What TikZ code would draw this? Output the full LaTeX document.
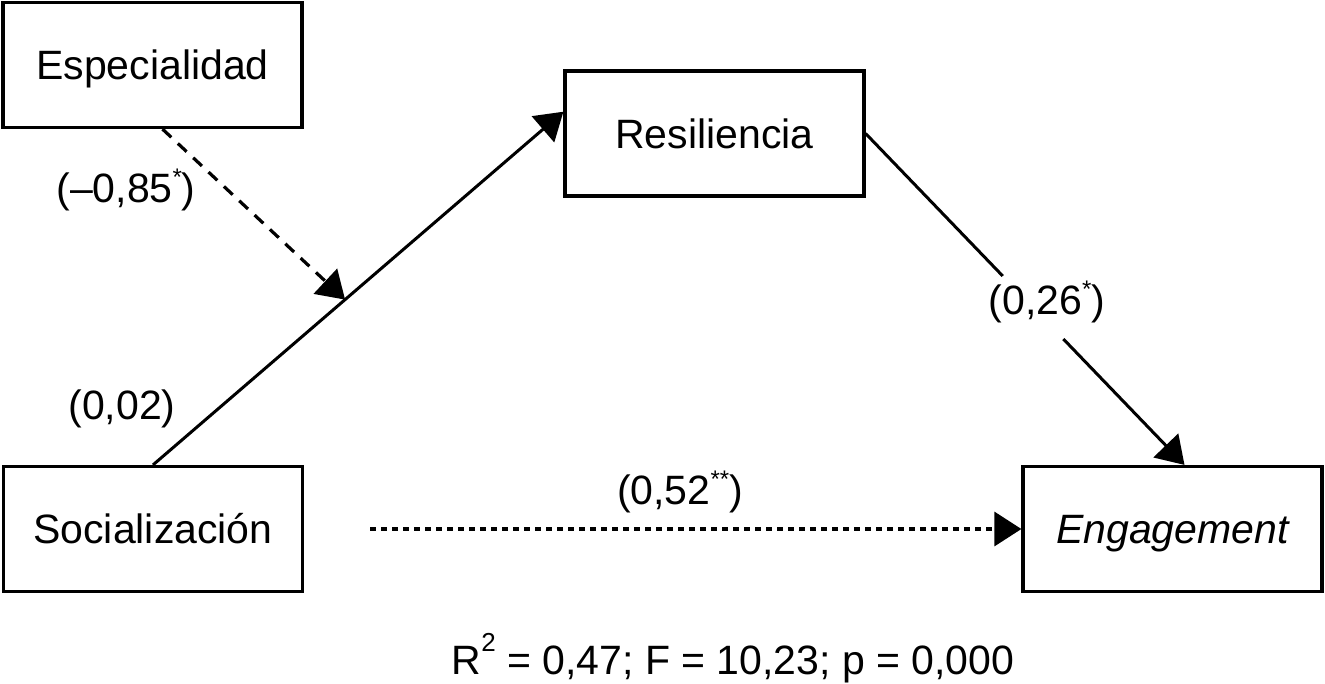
\documentclass[tikz,border=0pt]{standalone}
\usepackage{fontspec}
\setmainfont{Liberation Sans}
\usetikzlibrary{arrows.meta,calc}
\newcommand\supstar[1]{\raisebox{0.42em}{\fontsize{24}{24}\selectfont #1}}
\newcommand\supnum[1]{\raisebox{0.55em}{\fontsize{26}{26}\selectfont #1}}
\begin{document}
\begin{tikzpicture}[x=1pt,y=-1pt,
  box/.style={draw, line width=3.2pt, minimum width=299pt, minimum height=125pt, inner sep=0pt,
    text height=29.5pt, text depth=0pt, font=\fontsize{41}{48}\selectfont},
  lbl/.style={font=\fontsize{41}{48}\selectfont, inner sep=0pt},
  link/.style={line width=3pt},
  conn/.style={link, -{Triangle[length=27pt,width=34pt]}},
  ]
\useasboundingbox (0,0) rectangle (1325,683);
\node[box] (esp) at (152.5,65) {Especialidad};
\node[box] (res) at (714.5,133.5) {Resiliencia};
\node[box] (soc) at (153,529) {Socialización};
\node[box] (eng) at (1172.5,529) {\itshape Engagement};

\coordinate (restip) at ($(res.north west)!0.33!(res.south west)$);
\draw[conn] (soc.north) -- (restip);
\coordinate (mod) at ($(soc.north)!0.468!(restip)$);
\coordinate (espout) at ($(esp.south)+(10,0)$);
\draw[conn, line width=3.2pt, dash pattern=on 12pt off 9pt] (espout) -- (mod);

\coordinate (engtop) at ($(eng.north)+(12,0)$);
\coordinate (g1) at ($(res.east)!0.43!(engtop)$);
\coordinate (g2) at ($(res.east)!0.62!(engtop)$);
\draw[link] (res.east) -- (g1);
\draw[conn] (g2) -- (engtop);

\coordinate (dstart) at (370,529);
\draw[conn, line width=3.2pt, dash pattern=on 6pt off 5pt] (dstart) -- (eng.west);

\node[lbl] (l085) at (126,190) {(–0,85\supstar{*})};
\node[lbl] (l002) at (122,409) {(0,02)};
\node[lbl] (l052) at (680,492) {(0,52\supstar{**})};
\node[lbl] (l026) at (1047,302) {(0,26\supstar{*})};
\node[lbl, anchor=base] (stats) at (733,674) {R\supnum{2} = 0,47; F = 10,23; p = 0,000};
\end{tikzpicture}
\end{document}
